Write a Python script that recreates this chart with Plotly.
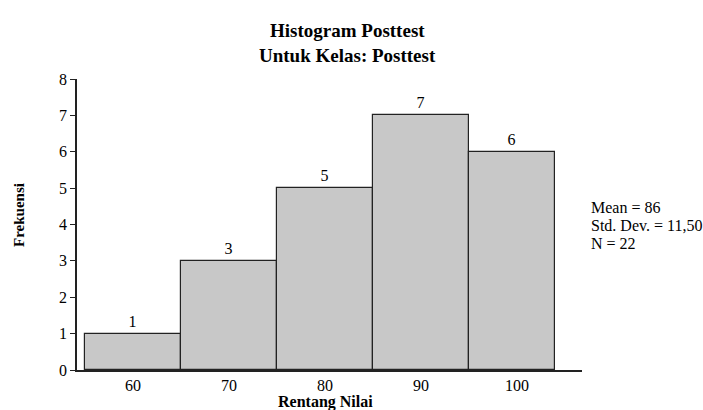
import plotly.graph_objects as go

# Data
bin_edges = [55, 65, 75, 85, 95, 104]
frequencies = [1, 3, 5, 7, 6]
tick_values = [60, 70, 80, 90, 100]
tick_labels = ["60", "70", "80", "90", "100"]
stats_lines = ["Mean = 86", "Std. Dev. = 11,50", "N = 22"]

centers = [(bin_edges[i] + bin_edges[i + 1]) / 2 for i in range(len(frequencies))]
widths = [bin_edges[i + 1] - bin_edges[i] for i in range(len(frequencies))]

FONT = "Liberation Serif"
L, R, T, B = 77, 582, 79, 370
PW, PH = R - L, B - T

def px(x):
    return (x - L) / PW

def py(y):
    return (B - y) / PH

fig = go.Figure()
fig.add_trace(go.Bar(
    x=centers, y=frequencies, width=widths,
    marker=dict(color="#c8c8c8", line=dict(color="#222222", width=1.2)),
    text=[str(v) for v in frequencies], textposition="outside",
    textfont=dict(family=FONT, size=16, color="black"),
    cliponaxis=False, hoverinfo="skip",
))

fig.update_layout(
    width=703, height=410,
    margin=dict(l=L, r=703 - R, t=T, b=410 - B),
    plot_bgcolor="white", paper_bgcolor="white",
    showlegend=False,
    font=dict(family=FONT, size=16, color="black"),
    bargap=0,
)
fig.update_xaxes(
    range=[54.17, 106.77], tickvals=tick_values, ticktext=tick_labels,
    showgrid=False, zeroline=False, showline=True, linecolor="#222222", linewidth=1.5,
    ticks="", tickfont=dict(family=FONT, size=16, color="black"), automargin=False,
)
fig.update_yaxes(
    range=[0, 8], dtick=1, showgrid=False, zeroline=False,
    showline=True, linecolor="#222222", linewidth=1.5,
    ticks="outside", ticklen=5, tickcolor="#222222", tickwidth=1.2,
    tickfont=dict(family=FONT, size=16, color="black"), automargin=False,
)

fig.add_annotation(text="<b>Histogram Posttest</b>", xref="paper", yref="paper",
                   x=px(347), y=py(31), xanchor="center", yanchor="middle",
                   showarrow=False, font=dict(family=FONT, size=19))
fig.add_annotation(text="<b>Untuk Kelas: Posttest</b>", xref="paper", yref="paper",
                   x=px(347), y=py(55), xanchor="center", yanchor="middle",
                   showarrow=False, font=dict(family=FONT, size=19))
fig.add_annotation(text="<b>Frekuensi</b>", xref="paper", yref="paper",
                   x=px(19), y=py(215), xanchor="center", yanchor="middle",
                   textangle=-90, showarrow=False, font=dict(family=FONT, size=15))
fig.add_annotation(text="<b>Rentang Nilai</b>", xref="paper", yref="paper",
                   x=px(325), y=py(402), xanchor="center", yanchor="middle",
                   showarrow=False, font=dict(family=FONT, size=16))
for i, line in enumerate(stats_lines):
    fig.add_annotation(text=line, xref="paper", yref="paper",
                       x=px(589), y=py(207 + 18 * i),
                       xanchor="left", yanchor="middle", showarrow=False,
                       font=dict(family=FONT, size=16))

fig.write_html("out.html", config={"displayModeBar": False},
               post_script="document.body.style.margin='0px';")
